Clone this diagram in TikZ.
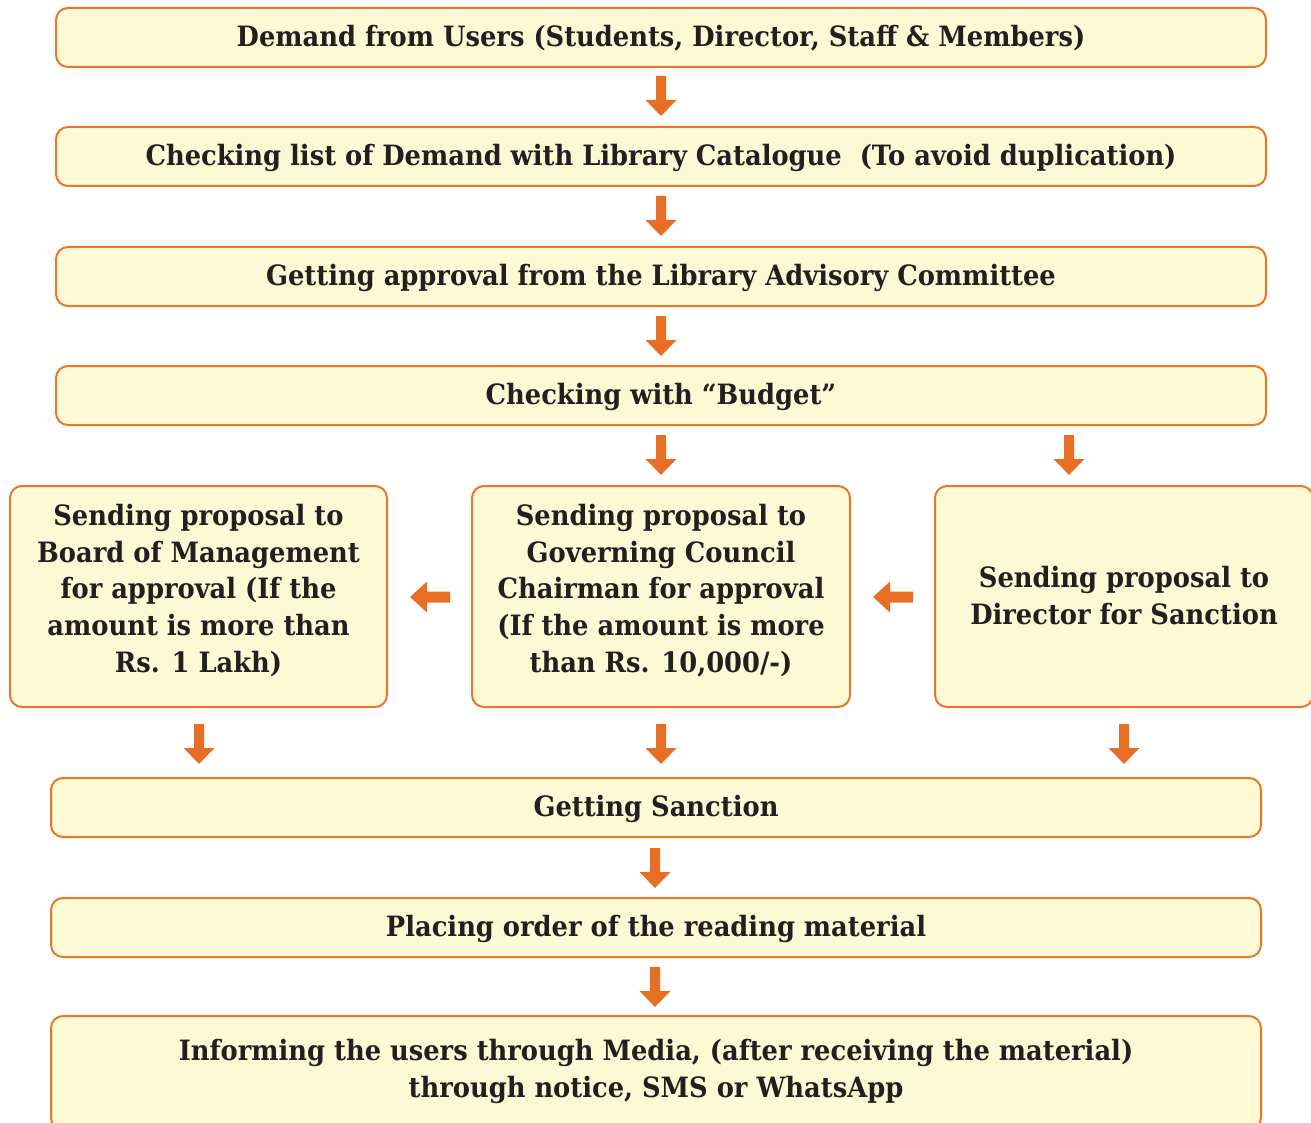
\documentclass[tikz,border=0pt]{standalone}
\usepackage{fontspec}
\setmainfont{DejaVu Serif}[FakeStretch=0.92]
\definecolor{boxfill}{HTML}{FEF9D5}
\definecolor{boxline}{HTML}{E8762B}
\definecolor{arrowc}{HTML}{E86E24}
\definecolor{ink}{HTML}{231F20}
\begin{document}
\begin{tikzpicture}[x=1pt,y=-1pt,
  flowbox/.style={draw=boxline, fill=boxfill, line width=2pt, rounded corners=12pt,
    inner sep=0pt},
  flowtext/.style={text=ink, font=\fontsize{28}{36.6}\selectfont\bfseries, align=center, inner sep=0pt},
  darr/.pic={\fill[arrowc] (-5,0) -- (5,0) -- (5,24) -- (15.5,24) -- (0,40) -- (-15.5,24) -- (-5,24) -- cycle;},
  larr/.pic={\fill[arrowc] (0,0) -- (17,-15.5) -- (17,-5.5) -- (40,-5.5) -- (40,5.5) -- (17,5.5) -- (17,15.5) -- cycle;}
]
\useasboundingbox (0,0) rectangle (1311,1123);

% main column
\node[flowbox, minimum width=1210pt, minimum height=59pt] (demand) at (661,37.5) {};
\node[flowtext] at ([yshift=-1pt]demand.center) {Demand from Users (Students, Director, Staff \& Members)};
\node[flowbox, minimum width=1210pt, minimum height=59pt] (check) at (661,156.5) {};
\node[flowtext] at ([yshift=-1pt]check.center) {Checking list of Demand with Library Catalogue\ \ (To avoid duplication)};
\node[flowbox, minimum width=1210pt, minimum height=59pt] (approval) at (661,276.5) {};
\node[flowtext] at ([yshift=-1pt]approval.center) {Getting approval from the Library Advisory Committee};
\node[flowbox, minimum width=1210pt, minimum height=59pt] (budget) at (661,395.5) {};
\node[flowtext] at ([yshift=-1pt]budget.center) {Checking with “Budget”};

% three proposal routes
\node[flowbox, minimum width=377pt, minimum height=221pt] (board) at (198.5,596.5) {};
\node[flowtext] at ([yshift=6pt]board.center)
  {Sending proposal to\\Board of Management\\for approval (If the\\amount is more than\\Rs. 1 Lakh)};
\node[flowbox, minimum width=378pt, minimum height=221pt] (council) at (661,596.5) {};
\node[flowtext] at ([yshift=6pt]council.center)
  {Sending proposal to\\Governing Council\\Chairman for approval\\(If the amount is more\\than Rs. 10,000/-)};
\node[flowbox, minimum width=378pt, minimum height=221pt] (director) at (1124,596.5) {};
\node[flowtext] at ([yshift=1pt]director.center)
  {Sending proposal to\\Director for Sanction};

% closing steps
\node[flowbox, minimum width=1210pt, minimum height=59pt] (sanction) at (656,807.5) {};
\node[flowtext] at ([yshift=-1pt]sanction.center) {Getting Sanction};
\node[flowbox, minimum width=1210pt, minimum height=59pt] (order) at (656,927.5) {};
\node[flowtext] at ([yshift=-1pt]order.center) {Placing order of the reading material};
\node[flowbox, minimum width=1210pt, minimum height=114pt] (inform) at (656,1073) {};
\node[flowtext] at (656,1071.5)
  {Informing the users through Media, (after receiving the material)\\through notice, SMS or WhatsApp};

% block arrows
\pic at (661,76) {darr};
\pic at (661,196) {darr};
\pic at (661,316) {darr};
\pic at (661,435) {darr};
\pic at (1069,435) {darr};
\pic at (410,597) {larr};
\pic at (873,597) {larr};
\pic at (199,724) {darr};
\pic at (661,724) {darr};
\pic at (1124,724) {darr};
\pic at (655,848) {darr};
\pic at (655,967) {darr};
\end{tikzpicture}
\end{document}
